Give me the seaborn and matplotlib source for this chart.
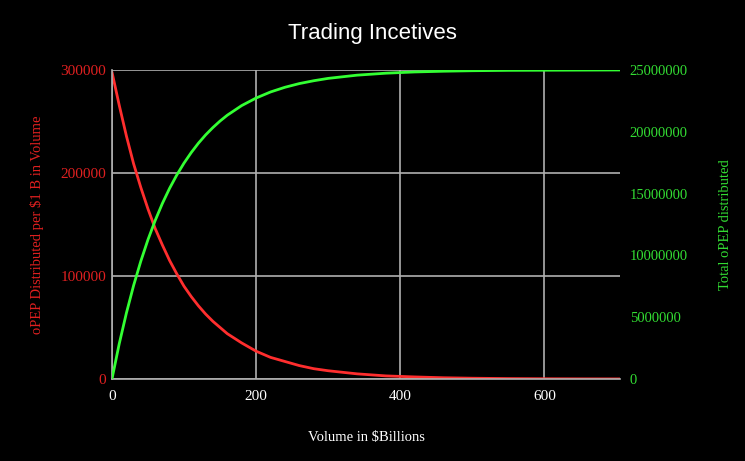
import pandas as pd
import matplotlib
matplotlib.use("Agg")
import matplotlib.pyplot as plt
import seaborn as sns

# values
volume = [0, 10, 20, 30, 40, 50, 60, 70, 80, 90, 100, 110, 120, 130, 140, 150, 160,
          180, 200, 220, 240, 260, 280, 300, 340, 380, 420, 460, 500, 550, 600, 650, 705]
per_billion = [298000, 266000, 236000, 209000, 186000, 165000, 146000, 130000, 115000,
               102000, 90000, 80000, 71000, 63000, 56000, 50000, 44000, 35000, 27000,
               21000, 17000, 13000, 10000, 8000, 5000, 3000, 2000, 1200, 750, 400, 220, 120, 60]
total = [0, 2830000, 5330000, 7560000, 9530000, 11280000, 12830000, 14210000, 15430000,
         16510000, 17470000, 18320000, 19080000, 19750000, 20340000, 20870000, 21340000,
         22120000, 22730000, 23220000, 23600000, 23900000, 24130000, 24320000, 24580000,
         24740000, 24840000, 24900000, 24940000, 24970000, 24980000, 24990000, 25000000]

df = pd.DataFrame({"volume": volume, "per_billion": per_billion, "total": total})

sns.set_style("dark", {"axes.facecolor": "black", "figure.facecolor": "black"})
plt.rcParams["font.family"] = ["Liberation Serif", "DejaVu Serif"]

fig = plt.figure(figsize=(7.45, 4.61), dpi=100)
ax = fig.add_axes([0.1503, 0.1779, 0.6819, 0.6703])
ax2 = ax.twinx()

sns.lineplot(data=df, x="volume", y="per_billion", ax=ax, color="#ff2e2e", linewidth=2)
sns.lineplot(data=df, x="volume", y="total", ax=ax2, color="#33ff33", linewidth=2)

ax.set_xlim(0, 705)
ax.set_ylim(0, 300000)
ax2.set_ylim(0, 25000000)
ax.set_xticks([0, 200, 400, 600])
ax.set_yticks([0, 100000, 200000, 300000])
ax2.set_yticks(range(0, 25000001, 5000000))
ax.ticklabel_format(style="plain", axis="y")
ax2.ticklabel_format(style="plain", axis="y")

ax.grid(True, color="#b0b0b0", linewidth=1.2)
ax2.grid(False)
ax.set_axisbelow(True)
for s in ["top", "right"]:
    ax.spines[s].set_visible(False)
for s in ax2.spines.values():
    s.set_visible(False)
for s in ["left", "bottom"]:
    ax.spines[s].set_color("#b0b0b0")
    ax.spines[s].set_linewidth(1.2)

ax.tick_params(axis="x", colors="white", length=0, labelsize=11, pad=8)
ax.tick_params(axis="y", colors="#e02020", length=0, labelsize=11, pad=4)
ax2.tick_params(axis="y", colors="#33dd33", length=0, labelsize=10.5, pad=7)

ax.set_xlabel("Volume in $Billions", color="white", fontsize=10.5, labelpad=20)
ax.set_ylabel("oPEP Distributed per $1 B in Volume", color="#e02020", fontsize=10.5, labelpad=12)
ax2.set_ylabel("Total oPEP distributed", color="#33dd33", fontsize=10.5, labelpad=22)

fig.suptitle("Trading Incetives", color="white", fontsize=16,
             family=["Liberation Sans", "DejaVu Sans"], y=0.95)

fig.savefig("out.png", dpi=100, facecolor="black")
